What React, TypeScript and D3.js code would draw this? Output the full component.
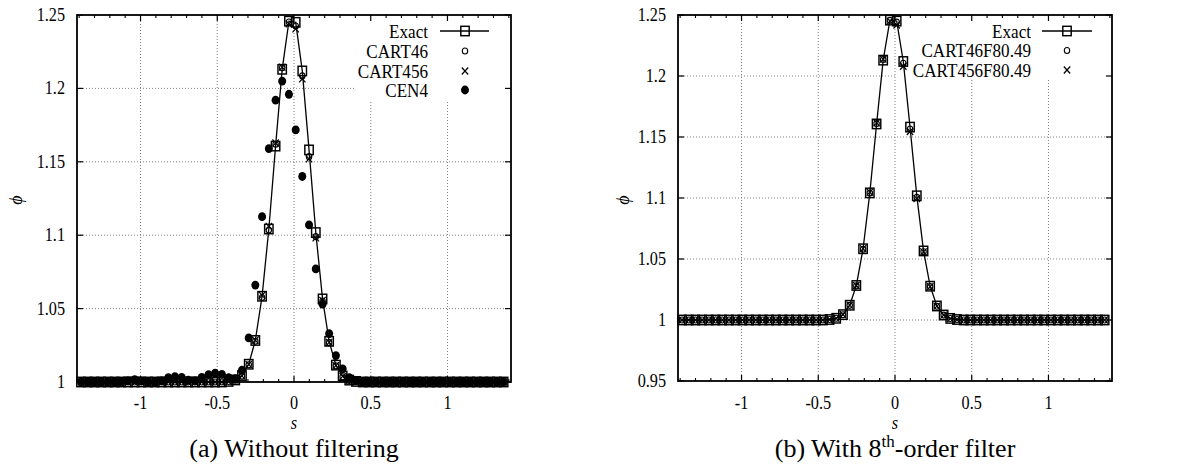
import React from 'react';
import * as d3 from 'd3';

// arc-length coordinate of the grid points
const S = [
  -1.388, -1.344, -1.3, -1.257, -1.213, -1.169, -1.126, -1.082,
  -1.038, -0.994, -0.951, -0.907, -0.863, -0.819, -0.776, -0.732,
  -0.689, -0.645, -0.601, -0.557, -0.514, -0.47, -0.426, -0.383,
  -0.339, -0.295, -0.252, -0.208, -0.164, -0.12, -0.077, -0.033,
  0.011, 0.054, 0.098, 0.142, 0.186, 0.229, 0.273, 0.317,
  0.36, 0.404, 0.448, 0.491, 0.535, 0.579, 0.623, 0.666,
  0.71, 0.754, 0.798, 0.841, 0.885, 0.929, 0.972, 1.016,
  1.06, 1.104, 1.147, 1.191, 1.235, 1.278, 1.322, 1.366,
];

const EXACT = [
  1, 1, 1, 1, 1, 1, 1, 1,
  1, 1, 1, 1, 1, 1, 1, 1,
  1, 1, 1, 1, 1, 1, 1.0004, 1.0014,
  1.0044, 1.0121, 1.0283, 1.0584, 1.1042, 1.1607, 1.213, 1.2458,
  1.245, 1.2119, 1.1581, 1.1018, 1.0566, 1.0277, 1.0115, 1.0041,
  1.0013, 1.0004, 1, 1, 1, 1, 1, 1,
  1, 1, 1, 1, 1, 1, 1, 1,
  1, 1, 1, 1, 1, 1, 1, 1,
];

const CART46 = [
  1, 1, 1, 1, 1, 1, 1, 1,
  1, 1, 1, 1, 1, 1, 1, 1,
  1, 1, 1, 1, 1, 1, 1.0003, 1.0012,
  1.004, 1.0118, 1.0278, 1.0575, 1.1035, 1.162, 1.214, 1.2452,
  1.2425, 1.2085, 1.1535, 1.099, 1.0552, 1.0268, 1.011, 1.0036,
  1.001, 1.0002, 1, 1, 1, 1, 1, 1,
  1, 1, 1, 1, 1, 1, 1, 1,
  1, 1, 1, 1, 1, 1, 1, 1,
];

const CART456 = [
  1, 1, 1, 1, 1, 1, 1, 1,
  1, 1, 1, 1, 1, 1, 1, 1,
  1, 1, 1, 1, 1, 1, 1.0003, 1.0013,
  1.0042, 1.012, 1.0285, 1.059, 1.106, 1.1628, 1.2145, 1.244,
  1.2405, 1.2065, 1.152, 1.0982, 1.0556, 1.027, 1.0112, 1.0038,
  1.0011, 1.0003, 1, 1, 1, 1, 1, 1,
  1, 1, 1, 1, 1, 1, 1, 1,
  1, 1, 1, 1, 1, 1, 1, 1,
];

const CEN4 = [
  1, 1, 1, 1, 1, 1, 1, 1.001,
  1.0016, 1.0008, 1, 1, 1.001, 1.003, 1.0036, 1.0032,
  1.0012, 1.001, 1.0032, 1.005, 1.006, 1.0052, 1.003, 1.0022,
  1.008, 1.03, 1.066, 1.1126, 1.159, 1.192, 1.205, 1.196,
  1.1717, 1.14, 1.107, 1.077, 1.053, 1.033, 1.018, 1.009,
  1.003, 1.001, 1, 1, 1, 1, 1, 1,
  1, 1, 1, 1, 1, 1, 1, 1,
  1, 1, 1, 1, 1, 1, 1, 1,
];

const CART46F = [
  1, 1, 1, 1, 1, 1, 1, 1,
  1, 1, 1, 1, 1, 1, 1, 1,
  1, 1, 1, 1, 1, 1, 1.0004, 1.0014,
  1.0043, 1.012, 1.028, 1.058, 1.104, 1.161, 1.2135, 1.2456,
  1.2442, 1.2105, 1.1565, 1.1005, 1.056, 1.0274, 1.0113, 1.004,
  1.0012, 1.0004, 1, 1, 1, 1, 1, 1,
  1, 1, 1, 1, 1, 1, 1, 1,
  1, 1, 1, 1, 1, 1, 1, 1,
];

const CART456F = [
  1, 1, 1, 1, 1, 1, 1, 1,
  1, 1, 1, 1, 1, 1, 1, 1,
  1, 1, 1, 1, 1, 1, 1.0004, 1.0014,
  1.0045, 1.0122, 1.0283, 1.0585, 1.1048, 1.1615, 1.2138, 1.245,
  1.2418, 1.208, 1.1545, 1.0995, 1.0558, 1.0273, 1.0113, 1.004,
  1.0012, 1.0004, 1, 1, 1, 1, 1, 1,
  1, 1, 1, 1, 1, 1, 1, 1,
  1, 1, 1, 1, 1, 1, 1, 1,
];

const X_TICKS = [-1, -0.5, 0, 0.5, 1];
const X_TICK_LABELS = ['-1', '-0.5', '0', '0.5', '1'];
const Y_TICKS_A = [1, 1.05, 1.1, 1.15, 1.2, 1.25];
const Y_TICK_LABELS_A = ['1', '1.05', '1.1', '1.15', '1.2', '1.25'];
const Y_TICKS_B = [0.95, 1, 1.05, 1.1, 1.15, 1.2, 1.25];
const Y_TICK_LABELS_B = ['0.95', '1', '1.05', '1.1', '1.15', '1.2', '1.25'];

const LEGEND_A = ['Exact', 'CART46', 'CART456', 'CEN4'];
const LEGEND_B = ['Exact', 'CART46F80.49', 'CART456F80.49'];

const FONT = '"Liberation Serif", "Times New Roman", serif';
const SX = 0.9; // horizontal squeeze of the glyphs

type MarkType = 'square' | 'circle' | 'x' | 'dot';

function Mark({ type, x, y }: { type: MarkType; x: number; y: number }) {
  if (type === 'square')
    return <rect x={x - 4.2} y={y - 4.7} width={8.4} height={9.4} fill="none" stroke="#000" strokeWidth={1.45} />;
  if (type === 'circle') return <ellipse cx={x} cy={y} rx={2.7} ry={3} fill="none" stroke="#000" strokeWidth={1.1} />;
  if (type === 'x')
    return (
      <path
        d={`M${x - 3.2},${y - 3.5}L${x + 3.2},${y + 3.5}M${x - 3.2},${y + 3.5}L${x + 3.2},${y - 3.5}`}
        stroke="#000"
        strokeWidth={1.2}
        fill="none"
      />
    );
  return <ellipse cx={x} cy={y} rx={4} ry={4.4} fill="#000" />;
}

function T({
  x,
  y,
  size,
  anchor,
  children,
  italic,
  sx = SX,
}: {
  x: number;
  y: number;
  size: number;
  anchor: 'start' | 'middle' | 'end';
  children: React.ReactNode;
  italic?: boolean;
  sx?: number;
}) {
  return (
    <text
      transform={`translate(${x},${y}) scale(${sx},1)`}
      textAnchor={anchor}
      fontSize={size}
      fontStyle={italic ? 'italic' : 'normal'}
    >
      {children}
    </text>
  );
}

type SeriesDef = { values: number[]; mark: MarkType; line?: boolean };

type PanelProps = {
  x0: number;
  x1: number;
  y0: number;
  y1: number;
  yDomain: [number, number];
  yTicks: number[];
  yTickLabels: string[];
  series: SeriesDef[];
  legend: string[];
  legendTextRight: number;
  legendSymX: number;
  legendLine: [number, number];
  legendRows: number[];
  keyBox: { x: number; y: number; w: number; h: number };
  ylabelX: number;
  caption: React.ReactNode;
};

function Panel(p: PanelProps) {
  const x = d3.scaleLinear().domain([-1.414, 1.414]).range([p.x0, p.x1]);
  const y = d3.scaleLinear().domain(p.yDomain).range([p.y1, p.y0]);
  const minor = d3
    .range(-14, 15)
    .map((v) => v / 10)
    .filter((v) => Math.abs(Math.round(v * 2) - v * 2) > 1e-6);
  const line = d3
    .line<number>()
    .x((_, i) => x(S[i]))
    .y((v) => y(v));
  const cx = x(0);
  const grid = '#808080';
  return (
    <g fontFamily={FONT}>
      {/* grid */}
      {X_TICKS.map((t) => (
        <line key={'gx' + t} x1={x(t)} x2={x(t)} y1={p.y1} y2={p.y0} stroke={grid} strokeWidth={1} strokeDasharray="1,2" />
      ))}
      {p.yTicks
        .filter((t) => t > p.yDomain[0] + 1e-9 && t < p.yDomain[1] - 1e-9)
        .map((t) => (
          <line key={'gy' + t} x1={p.x0} x2={p.x1} y1={y(t)} y2={y(t)} stroke={grid} strokeWidth={1} strokeDasharray="1,2" />
        ))}
      {/* opaque key area */}
      <rect x={p.keyBox.x} y={p.keyBox.y} width={p.keyBox.w} height={p.keyBox.h} fill="#fff" />
      {/* frame */}
      <rect x={p.x0} y={p.y0} width={p.x1 - p.x0} height={p.y1 - p.y0} fill="none" stroke="#000" strokeWidth={1.8} />
      {/* ticks */}
      {X_TICKS.map((t) => (
        <g key={'tx' + t}>
          <line x1={x(t)} x2={x(t)} y1={p.y1} y2={p.y1 - 6} stroke="#000" strokeWidth={1.2} />
          <line x1={x(t)} x2={x(t)} y1={p.y0} y2={p.y0 + 6} stroke="#000" strokeWidth={1.2} />
        </g>
      ))}
      {minor.map((t) => (
        <g key={'mx' + t}>
          <line x1={x(t)} x2={x(t)} y1={p.y1} y2={p.y1 - 3} stroke="#000" strokeWidth={1.1} />
          <line x1={x(t)} x2={x(t)} y1={p.y0} y2={p.y0 + 3} stroke="#000" strokeWidth={1.1} />
        </g>
      ))}
      {p.yTicks.map((t) => (
        <g key={'ty' + t}>
          <line x1={p.x0} x2={p.x0 + 6} y1={y(t)} y2={y(t)} stroke="#000" strokeWidth={1.2} />
          <line x1={p.x1} x2={p.x1 - 6} y1={y(t)} y2={y(t)} stroke="#000" strokeWidth={1.2} />
        </g>
      ))}
      {/* tick labels */}
      {X_TICKS.map((t, i) => (
        <T key={'lx' + t} x={x(t)} y={409} size={18} anchor="middle">
          {X_TICK_LABELS[i]}
        </T>
      ))}
      {p.yTicks.map((t, i) => (
        <T key={'ly' + t} x={p.x0 - 12} y={y(t) + 6} size={18} anchor="end">
          {p.yTickLabels[i]}
        </T>
      ))}
      {/* axis labels */}
      <T x={cx} y={429} size={18} anchor="middle" italic>
        s
      </T>
      <text
        transform={`translate(${p.ylabelX},200) rotate(-90)`}
        textAnchor="middle"
        dominantBaseline="central"
        fontSize={18}
        fontStyle="italic"
      >
        ϕ
      </text>
      {/* data */}
      {p.series.map((s, si) => (
        <g key={'s' + si}>
          {s.line && <path d={line(s.values) || ''} fill="none" stroke="#000" strokeWidth={1.3} />}
          {s.values.map((v, i) => (
            <Mark key={i} type={s.mark} x={x(S[i])} y={y(v)} />
          ))}
        </g>
      ))}
      {/* legend */}
      {p.legend.map((lab, i) => {
        const ry = p.legendRows[i];
        const s = p.series[i];
        return (
          <g key={'lg' + i}>
            <T x={p.legendTextRight} y={ry + 6.5} size={19} anchor="end">
              {lab}
            </T>
            {s.line && <line x1={p.legendLine[0]} x2={p.legendLine[1]} y1={ry} y2={ry} stroke="#000" strokeWidth={1.3} />}
            <Mark type={s.mark} x={p.legendSymX} y={ry} />
          </g>
        );
      })}
      {/* caption */}
      <T x={cx} y={457} size={26} anchor="middle" sx={1}>
        {p.caption}
      </T>
    </g>
  );
}

export default function App() {
  return (
    <svg
      width={1178}
      height={466}
      viewBox="0 0 1178 466"
      style={{ position: 'absolute', left: 0, top: 0, background: '#fff' }}
    >
      <rect x={0} y={0} width={1178} height={466} fill="#fff" />
      <Panel
        x0={77}
        x1={511}
        y0={15}
        y1={382}
        yDomain={[1, 1.25]}
        yTicks={Y_TICKS_A}
        yTickLabels={Y_TICK_LABELS_A}
        series={[
          { values: EXACT, mark: 'square', line: true },
          { values: CART46, mark: 'circle' },
          { values: CART456, mark: 'x' },
          { values: CEN4, mark: 'dot' },
        ]}
        legend={LEGEND_A}
        legendTextRight={428}
        legendSymX={465}
        legendLine={[440, 489]}
        legendRows={[31, 51, 71, 90]}
        keyBox={{ x: 355, y: 16, w: 155, h: 84 }}
        ylabelX={16}
        caption={<>(a) Without filtering</>}
      />
      <Panel
        x0={678}
        x1={1112}
        y0={15}
        y1={381}
        yDomain={[0.95, 1.25]}
        yTicks={Y_TICKS_B}
        yTickLabels={Y_TICK_LABELS_B}
        series={[
          { values: EXACT, mark: 'square', line: true },
          { values: CART46F, mark: 'circle' },
          { values: CART456F, mark: 'x' },
        ]}
        legend={LEGEND_B}
        legendTextRight={1031}
        legendSymX={1067}
        legendLine={[1042, 1092]}
        legendRows={[31, 50.5, 70]}
        keyBox={{ x: 897, y: 16, w: 214, h: 64 }}
        ylabelX={623}
        caption={
          <>
            (b) With 8
            <tspan dy={-10} fontSize={17}>
              th
            </tspan>
            <tspan dy={10}>-order filter</tspan>
          </>
        }
      />
    </svg>
  );
}
